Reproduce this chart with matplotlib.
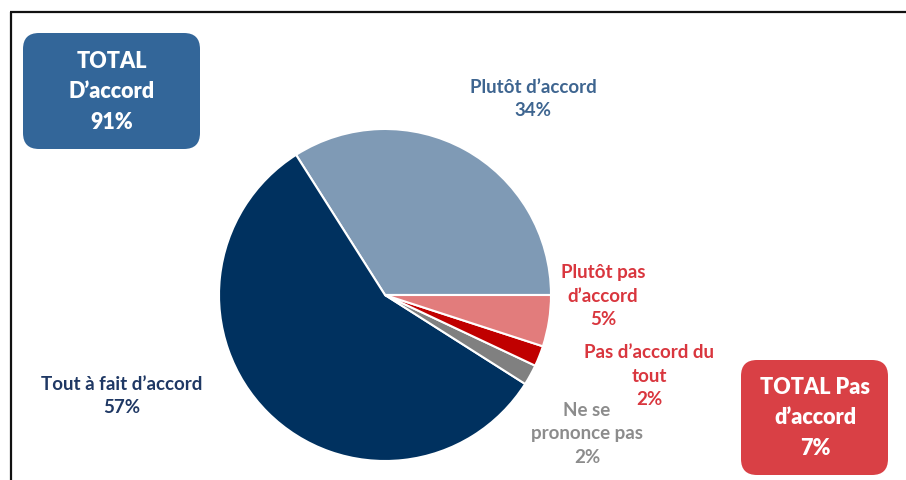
import matplotlib
matplotlib.use("Agg")
import matplotlib.pyplot as plt
from matplotlib.patches import FancyBboxPatch

plt.rcParams["font.family"] = ["Lato", "DejaVu Sans"]

# slice data, counterclockwise from 3 o'clock
labels = ["Plutôt d’accord", "Tout à fait d’accord", "Ne se prononce pas",
          "Pas d’accord du tout", "Plutôt pas d’accord"]
values = [34, 57, 2, 2, 5]
colors = ["#7f9ab5", "#00315f", "#808080", "#c00000", "#e27c7c"]

label_text = ["Plutôt d’accord\n34%", "Tout à fait d’accord\n57%", "Ne se\nprononce pas\n2%",
              "Pas d’accord du\ntout\n2%", "Plutôt pas\nd’accord\n5%"]
label_colors = ["#3e6590", "#1f3864", "#8c8c8c", "#d9363e", "#d9363e"]
# label centers in image pixels
label_pos = [(533, 99), (122, 396), (587, 434), (649, 376), (603, 296)]

total_agree = "TOTAL\nD’accord\n91%"
total_disagree = "TOTAL Pas\nd’accord\n7%"

W, H = 906, 480
fig = plt.figure(figsize=(W / 100, H / 100), dpi=100)
ax = fig.add_axes([0, 0, 1, 1])
ax.set_xlim(0, W)
ax.set_ylim(0, H)
ax.set_aspect("equal")
ax.axis("off")

ax.pie(values, colors=colors, startangle=0, counterclock=True,
       center=(385, H - 295), radius=166, explode=[0.02, 0, 0, 0, 0],
       wedgeprops=dict(edgecolor="white", linewidth=1.5))
ax.set_xlim(0, W)
ax.set_ylim(0, H)

for txt, col, (x, y) in zip(label_text, label_colors, label_pos):
    ax.text(x, H - y, txt, ha="center", va="center", color=col,
            fontsize=13.5, fontweight="bold", linespacing=1.45)

# summary boxes
ax.add_patch(FancyBboxPatch((23, H - 149), 177, 116,
                            boxstyle="round,pad=0,rounding_size=16",
                            facecolor="#336699", edgecolor="none"))
ax.text(112, H - 92, total_agree, ha="center", va="center", color="white",
        fontsize=15.5, fontweight="heavy", linespacing=1.55)

ax.add_patch(FancyBboxPatch((741, H - 475), 147, 115,
                            boxstyle="round,pad=0,rounding_size=16",
                            facecolor="#d94045", edgecolor="none"))
ax.text(815, H - 418, total_disagree, ha="center", va="center", color="white",
        fontsize=15.5, fontweight="heavy", linespacing=1.55)

# frame lines
ax.plot([10, W], [H - 12, H - 12], color="#111111", lw=1.6, solid_capstyle="butt")
ax.plot([11, 11], [H - 12, 0], color="#111111", lw=1.6, solid_capstyle="butt")

fig.savefig("out.png", dpi=100)
